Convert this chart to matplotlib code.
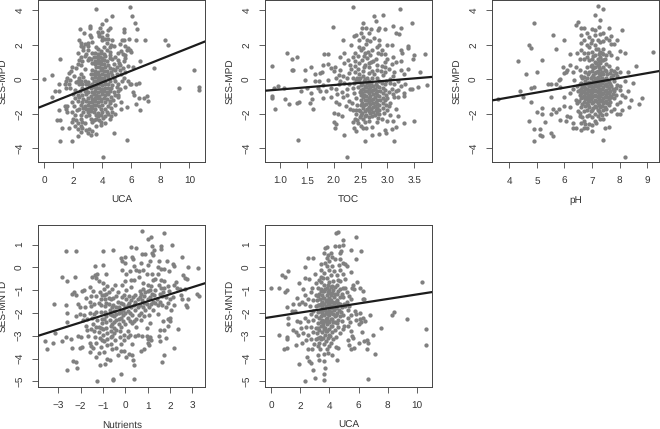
import numpy as np
import matplotlib
matplotlib.use("Agg")
import matplotlib.pyplot as plt

plt.rcParams['font.family'] = ['Liberation Sans', 'DejaVu Sans']
plt.rcParams['text.hinting'] = 'no_hinting'
plt.rcParams['text.hinting_factor'] = 1

mpd_uca = [(0,0),(.5,.25),(.5,-1),(.75,-.65),(1,-.7),(1,-.3),(1.1,1.2),(1.1,-3.55),(1,-1.8),(.9,-2.35),(1.1,-2.35),(1.2,-2.8),(1.9,-3.55),(2.3,-3.3),(4.05,-4.5),(4.8,-3.1),(5.7,-3.5),(3.6,4.1),(5.9,4.2),(6.05,3.65),(6.25,3.25),(6.4,2.9),(4.65,3.65),(4.25,3.45),(3.15,3.1),(3.15,2.95),(3.95,3.2),(3.85,3),(2.45,2.9),(2.75,2.7),(3.15,2.55),(5.5,2.9),(5.5,2.75),(5.5,2.3),(5.85,2.35),(6.35,2.3),(6.95,2.3),(8.3,2.3),(8.5,2),(6,1.6),(6.6,1.05),(7.55,.65),(10.35,.55),(9.3,-.5),(10.65,-.45),(10.65,-.6),(7.15,-1.25),(7.05,-.95),(6.85,-1.1),(6.55,-1.1),(6.6,-1.75),(6.3,-1.45),(5.7,-1.6),(5.3,-1.7),(4.85,-2),(4.5,-2.3),(6.5,-.2),(6.3,-.3),(6,-.3),(6.1,-.75),(6.2,-.9),
(3.7,2.72),(3.78,2.64),(4,2.75),(4.4,2.85),(4.55,2.95),(3.2,2.48),(3.75,2.5),(4,2.45),(4.3,2.55),(2.4,2.25),(4,2.28),(4.2,2.32),(4.42,2.35),(4.7,2.3),(5.35,2.25),(2.5,2.12),(2.8,2.05),(3,2.1),(3.3,2.15),(4.3,2.1),(4.6,2.0),(5.2,2.05),(2.5,1.92),(2.7,1.85),(3,1.95),(3.6,1.9),(4.1,1.85),(4.5,1.88),(4.8,1.92),(5.6,1.95),(5.8,1.8),(2.7,1.72),(3,1.68),(3.7,1.75),(3.9,1.66),(4.3,1.7),(4.5,1.6),(5.3,1.62),(5.7,1.72),(5.9,1.68),(2.3,1.5),(2.9,1.45),(3.3,1.55),(3.5,1.5),(3.72,1.48),(3.9,1.52),(4.1,1.45),(4.52,1.42),(5.1,1.55),(5.4,1.48),(5.6,1.4),(2.5,1.3),(2.8,1.35),(3.1,1.25),(3.4,1.32),(3.62,1.28),(3.82,1.3),(4,1.26),(4.2,1.34),(4.5,1.22),(4.9,1.3),(5.6,1.25),(2.4,1.12),(2.6,1.05),(3,1.1),(3.2,1.15),(3.5,1.06),(3.7,1.1),(3.9,1.05),(4.1,1.12),(4.3,1.04),(5.1,1.1),(5.5,1.05),(2.3,.9),(2.5,.85),(3.3,.95),(3.52,.88),(3.7,.92),(3.92,.86),(4.1,.9),(4.4,.85),(4.8,.9),(5.2,.85),(1.9,.72),(2.2,.68),(3.6,.7),(3.8,.74),(4,.66),(4.2,.72),(4.5,.65),(5,.7),(5.4,.66),(1.85,.48),(2.8,.6),(3.3,.52),(3.5,.5),(3.7,.45),(3.9,.52),(4.1,.48),(4.32,.5),(4.6,.45),(4.9,.52),(5.2,.55),(1.7,.35),(2.5,.3),(3.2,.32),(3.4,.28),(3.6,.3),(3.8,.26),(4,.32),(4.2,.27),(4.4,.3),(4.7,.25),(5,.3),(5.3,.28),(1.6,.05),(2.4,.1),(2.7,.12),(3.3,.08),(3.5,.12),(3.7,.06),(3.9,.1),(4.1,.05),(4.4,.12),(4.8,.08),(5.5,.1),(1.5,-.1),(1.8,-.05),(2.3,-.08),(2.5,-.12),(2.8,-.1),(3,-.15),(3.4,-.08),(3.6,-.12),(3.8,-.06),(4,-.12),(4.2,-.08),(4.5,-.12),(4.9,-.1),(5.8,-.08),(1.4,-.3),(1.7,-.25),(2.4,-.28),(2.6,-.3),(2.9,-.25),(3.1,-.32),(3.3,-.28),(3.6,-.34),(3.8,-.28),(4,-.32),(4.2,-.26),(4.4,-.3),(4.7,-.34),(5.1,-.28),(5.9,-.3),(1.8,-.5),(2.6,-.48),(2.9,-.55),(3.2,-.5),(3.4,-.46),(3.6,-.52),(3.8,-.5),(4,-.54),(4.2,-.48),(4.4,-.52),(4.6,-.5),(5,-.46),(5.2,-.55),(1.5,-.5),(2.8,-.7),(3,-.75),(3.3,-.72),(3.5,-.68),(3.7,-.74),(3.9,-.7),(4.1,-.66),(4.3,-.72),(4.5,-.7),(4.8,-.75),(5.1,-.68),(2.3,-.9),(2.6,-.92),(2.9,-.88),(3.2,-.94),(3.4,-.88),(3.6,-.9),(3.8,-.94),(4,-.88),(4.2,-.92),(4.4,-.86),(4.9,-.92),(2.1,-1.1),(2.4,-1.05),(2.7,-1.12),(3,-1.08),(3.3,-1.12),(3.5,-1.06),(3.7,-1.1),(3.9,-1.14),(4.1,-1.08),(4.3,-1.12),(4.6,-1.05),(1.6,-1.55),(1.9,-1.3),(2.3,-1.28),(2.6,-1.32),(2.9,-1.26),(3.1,-1.34),(3.3,-1.3),(3.5,-1.25),(3.7,-1.32),(3.9,-1.28),(4.2,-1.32),(4.5,-1.28),(5.3,-1.3),(1.4,-1.55),(2.5,-1.48),(2.8,-1.52),(3,-1.46),(3.2,-1.54),(3.4,-1.5),(3.6,-1.46),(3.8,-1.52),(4,-1.48),(4.4,-1.54),(4.9,-1.5),(1.5,-1.7),(2.4,-1.7),(2.7,-1.66),(2.9,-1.74),(3.1,-1.7),(3.3,-1.66),(3.5,-1.72),(3.9,-1.7),(4.2,-1.74),(4.6,-1.68),(1.6,-1.9),(1.9,-1.92),(2.7,-1.88),(3,-1.92),(3.2,-1.86),(3.4,-1.9),(3.7,-1.94),(4,-1.88),(4.3,-1.92),(4.7,-1.88),(2.9,-2.12),(3.1,-2.08),(3.7,-2.12),(3.9,-2.08),(4.2,-2.15),(4.6,-2.1),(2,-2.3),(2.2,-2.35),(2.5,-2.28),(3.2,-2.32),(3.6,-2.28),(3.8,-2.34),(1.9,-2.5),(2.3,-2.52),(2.6,-2.46),(2.8,-2.54),(3.3,-2.5),(3.9,-2.48),(4.2,-2.55),(2.1,-2.7),(2.5,-2.72),(3.6,-2.72),(3.9,-2.65),(1.7,-2.85),(2.3,-2.9),(2.6,-2.85),(2.9,-2.92),(3.1,-2.88),(2.5,-3.05),(3,-3.1),(3.3,-3),(3.6,-3.15),(3.2,-3.25),
(5.05,-.9),(5.35,-.1),(5.6,.4),(5.15,.95),(4.7,1.15),(4.75,.6),(2.05,.2),(2.2,-.15),(1.95,-.85),(2.15,-.6),(2.45,-.65),(3.55,-2.05),(3.45,-2.35),(4.05,-2.25),(4.4,-2),(4.55,-1.4),(5.55,-.45),(5.1,-1.05),(4.75,-1.2),(6.15,.7),(5.75,.75),(2.05,-1.55),(2.25,-1.75),(2.1,-2.05),(2.55,-2.05)]

mpd_toc = [(.85,.75),(.85,-1.1),(.85,-.95),(.88,-.5),(.9,-1.7),(.97,-.4),(1.07,-.5),(1.1,-1.15),(1.13,1.5),(1.17,-1.45),(1.22,1.2),(1.22,.55),(1.25,.55),(1.32,1.3),(1.32,-1.35),(1.35,-1.3),(1.34,-3.5),(1.39,-.7),(1.47,.55),(1.47,-.05),(1.5,-.5),(1.55,-1.4),(1.57,.7),(1.57,-.8),(1.62,-1.7),(1.6,-1.15),(1.65,-.1),(1.72,-.1),(1.78,.4),(1.82,1.45),(1.9,1.45),(1.8,.85),(1.98,3.05),(2.17,2.3),(2.35,4.2),(3.23,4.1),(2.75,3.65),(2.78,3.4),(2.92,3.7),(2.55,3.25),(3.1,3.1),(3.25,3),(3.45,3.25),(3.15,2.7),(3.22,2.6),(2.25,-4.5),(2.58,-3.55),(3.13,-3.55),(2.2,-3.25),(3.3,-2.55),(3.5,-2.4),(3.7,1.45),(3.6,.4),(3.73,-.35),(3.57,-.45),(3.45,-.55),
(1.65,.3),(1.75,.35),(1.7,-.5),(1.8,-.35),(1.85,-.65),(1.75,-.7),(1.8,-1.1),(1.95,-1.0),(1.9,.9),(1.95,.65),(2,.5),(2.02,.7),(1.9,-.05),(1.95,-.5),(2.05,-.55),(2.1,-.3),(2.05,-1.3),(2.1,-1.45),(2,-1.95),(2.08,-2.0),(2.15,-2.1),(2,-2.45),(2.05,-2.6),(2.02,-2.85),(2.12,.55),(2.12,1.3),(2.2,1.5),(2.2,.95),(2.18,.2),(2.2,-.2),(2.15,-.75),(2.18,-1.05),(2.25,-.55),(2.3,-1.7),(2.35,-1.8),(2.27,1.1),(2.3,.85),(2.28,.35),(2.32,2.0),(2.38,2.5),(2.42,2.55),(2.35,1.3),(2.4,1.55),(2.35,.1),(2.37,-.2),(2.42,-1.1),(2.35,-2.5),(2.4,-2.3),(2.38,-2.85),(2.42,-3),(2.42,-2.0),(2.47,2.3),(2.5,2.7),(2.52,2.95),(2.55,2.45),(2.47,1.9),(2.5,1.7),(2.45,1.35),(2.47,.95),(2.45,.6),(2.47,.3),(2.43,.1),(2.47,-.1),(2.45,-.45),(2.48,-.75),(2.43,-1.5),(2.47,-1.75),(2.48,-2.2),(2.45,-2.55),(2.5,-2.7),(2.55,-2.85),(2.6,3),(2.65,2.7),(2.62,2.25),(2.6,2.05),(2.55,1.8),(2.58,1.55),(2.62,1.25),(2.58,.85),(2.55,.5),(2.55,.2),(2.58,0),(2.53,-.25),(2.55,-.55),(2.53,-.8),(2.55,-1.05),(2.53,-1.35),(2.55,-1.65),(2.53,-1.95),(2.55,-2.3),(2.6,-2.85),(2.7,2.9),(2.75,2.4),(2.68,2.2),(2.72,1.7),(2.68,1.4),(2.7,1.0),(2.65,.7),(2.66,.35),(2.62,.05),(2.62,-.2),(2.6,-.45),(2.62,-.7),(2.6,-.95),(2.62,-1.2),(2.6,-1.45),(2.62,-1.7),(2.6,-2.05),(2.65,-2.4),(2.82,2.85),(2.85,3),(2.85,2.3),(2.8,1.9),(2.82,1.5),(2.78,1.2),(2.8,.85),(2.72,.5),(2.72,.1),(2.7,-.2),(2.68,-.45),(2.7,-.7),(2.68,-.95),(2.7,-1.2),(2.68,-1.45),(2.7,-1.7),(2.68,-1.95),(2.72,-2.15),(2.72,-2.75),(2.72,-3.25),(2.95,2.9),(2.85,2.0),(2.9,1.7),(2.88,1.45),(2.95,1.0),(2.9,.75),(2.88,.5),(2.92,.25),(2.8,.1),(2.78,-.25),(2.76,-.55),(2.78,-.8),(2.76,-1.05),(2.78,-1.3),(2.76,-1.55),(2.78,-1.8),(2.76,-2.05),(2.8,-2.5),(2.85,-3.15),(3,2),(3,1.2),(3.02,.6),(2.95,.4),(2.85,-.1),(2.85,-.45),(2.87,-.7),(2.85,-.95),(2.87,-1.2),(2.84,-1.5),(2.85,-1.75),(2.85,-2.0),(2.9,-2.3),(2.95,-2.95),(2.98,-3.1),(3,-2.4),(3.08,2),(3.1,1.3),(3.08,.9),(3.05,-.2),(2.95,-.3),(2.95,-.6),(2.98,-.9),(2.95,-1.2),(2.98,-1.5),(3,-1.8),(3.05,-1.35),(3.08,-.55),(3.1,-2.4),(3.08,-2.9),(3.15,-2.75),(3.15,-.7),(3.2,-.6),(3.25,1.7),(3.28,1.5),(3.25,1.05),(3.3,.3),(3.32,-.3),(3.3,-.95),(3.38,1.95),(3.38,1.8),(3.38,.6),(3.42,-.55),(3.47,1.2),(3.5,1.4),(3.2,-1.0),(3.2,-2.1),(3.15,-1.7),(3.3,-.8),(3.12,-1.05),(3.05,.0),(3.2,-.1),(3.13,.4),
(2.05,.05),(2.1,.25),(2.12,-.1),(2.06,-.85),(2.25,.05),(2.28,-.25),(2.24,-.9),(2.28,-1.25),(2.22,-1.55),(2.33,.6),(2.36,-.5),(2.38,-.8),(2.34,-1.35),(2.4,.4),(2.4,.75),(2.4,1.05),(2.41,-.05),(2.41,-1.75),(2.44,-2.35),(2.49,.05),(2.5,-.35),(2.5,-.62),(2.51,-.92),(2.5,-1.22),(2.5,-1.5),(2.49,-1.85),(2.51,-2.08),(2.53,1.1),(2.56,1.35),(2.57,.7),(2.57,-.1),(2.58,-.4),(2.58,-.68),(2.57,-.92),(2.58,-1.18),(2.57,-1.5),(2.58,-1.82),(2.58,-2.12),(2.59,-2.5),(2.64,1.6),(2.65,.95),(2.65,-.08),(2.65,-.32),(2.65,-.58),(2.65,-.82),(2.65,-1.08),(2.65,-1.33),(2.65,-1.58),(2.65,-1.85),(2.66,-2.2),(2.73,1.05),(2.74,-.4),(2.73,-.62),(2.73,-.88),(2.73,-1.12),(2.73,-1.38),(2.73,-1.62),(2.73,-1.88),(2.75,.3),(2.8,.55),(2.81,-.4),(2.81,-.68),(2.81,-.92),(2.81,-1.18),(2.81,-1.45),(2.81,-1.68),(2.81,-1.95),(2.83,-2.25),(2.9,-.2),(2.91,-.5),(2.91,-.82),(2.91,-1.08),(2.91,-1.38),(2.92,-1.65),(2.93,-1.95),(2.95,.7),(2.95,1.45),(2.98,-.1),(3,-1.1),(3.02,-.75),(3.02,-1.55),(3.05,-2.05),(3.1,.2),(3.15,1.0),(3.12,-.3),(3.1,-.85),(3.25,.55),(3.25,-.4)]

mpd_ph = [(3.6,-1.15),(4.3,1.05),(4.4,-.65),(4.5,-1),(4.6,.3),(4.7,2),(4.8,1.8),(4.8,-.5),(4.9,-.45),(4.8,-1.3),(4.9,3.25),(5,.4),(5.2,1.1),(4.7,-2.4),(4.9,-2.9),(5,-1.9),(5.1,-2.9),(4.9,-3.55),(5.1,-3.2),(5.2,-3.3),(5.2,-1.65),(5.2,-2),(5.3,-2.5),(5.5,-2),(5.5,-3.1),(5.6,-3.3),(5.4,-.3),(5.5,-.3),(5.5,-1),(5.6,2.55),(5.7,1.75),(5.6,-1.7),(5.7,-1.9),(5.8,-1.7),(5.85,-2.35),(5.7,-.3),(5.8,-.05),(5.85,0),(5.85,-.45),(6,2.3),(6,.35),(6.05,.45),(5.95,.7),(6.1,.55),(6.2,.85),(6,-1),(6,-1.55),(6.2,-1.6),(6.05,-2.4),(6.1,-2.15),(6.2,-2.2),(6.2,-.8),(6.2,1.45),(6.3,-2.55),(6.3,-2.85),(6.4,-2.8),(6.4,3.15),(6.5,3.3),(6.6,3),(6.7,2.95),(8.1,2.85),(8.2,1.5),(9.2,1.6),(8.6,.8),(8.3,.4),(8.5,-.2),(8.3,-.65),(8.4,-1.2),(8.8,-1.1),(8.7,-1.45),(8.35,-1.6),(8.1,-1.75),(8.2,-4.5),(7.4,-3.5),(7,-3),(7.45,-2.8),(7.6,-2.75),(7.2,4.25),(7.4,4.1),(7.1,3.7),(7.3,3.45),(7.25,3.05),(7.6,3),
(6.3,.4),(6.3,-.55),(6.35,-.05),(6.4,.7),(6.45,1.5),(6.45,-.4),(6.4,-1.2),(6.45,-1.35),(6.5,-.7),(6.5,-1.85),(6.55,-2.15),(6.55,.55),(6.55,1.2),(6.6,2.55),(6.6,2.1),(6.6,1.7),(6.6,.2),(6.6,-.2),(6.6,-.55),(6.6,-.8),(6.6,-1.1),(6.6,-1.6),(6.55,-1.95),(6.6,-2.55),(6.6,-2.95),(6.7,2.3),(6.7,1.5),(6.7,1.15),(6.7,.15),(6.7,-.35),(6.7,-.65),(6.7,-.95),(6.7,-1.3),(6.7,-1.85),(6.7,-2.4),(6.7,-2.8),(6.8,2.7),(6.8,2),(6.8,1.3),(6.8,.7),(6.8,.1),(6.8,-.3),(6.8,-.55),(6.8,-.8),(6.8,-1.05),(6.8,-1.35),(6.8,-1.75),(6.8,-2.1),(6.8,-2.85),(6.9,2.45),(6.9,1.85),(6.9,1.1),(6.9,.45),(6.9,-.15),(6.9,-.4),(6.9,-.7),(6.9,-1),(6.9,-1.25),(6.9,-1.6),(6.9,-2.05),(6.9,-2.6),(7,2.9),(7,2.3),(7,1.6),(7,1.2),(7,.85),(7,.5),(7,.15),(7,-.2),(7,-.5),(7,-.75),(7,-1.05),(7,-1.4),(7,-1.75),(7,-2.2),(7,-2.65),(7.1,2.85),(7.1,2.55),(7.1,2),(7.1,1.4),(7.1,1),(7.1,.7),(7.1,.35),(7.1,.05),(7.1,-.3),(7.1,-.6),(7.1,-.9),(7.1,-1.2),(7.1,-1.55),(7.1,-2),(7.1,-2.4),(7.2,2.3),(7.2,1.75),(7.2,1.2),(7.2,.85),(7.2,.5),(7.2,.15),(7.2,-.15),(7.2,-.45),(7.2,-.75),(7.2,-1.05),(7.2,-1.35),(7.2,-1.75),(7.2,-2.1),(7.3,2.65),(7.3,2.15),(7.3,1.6),(7.3,1.3),(7.3,.95),(7.3,.6),(7.3,.25),(7.3,-.05),(7.3,-.35),(7.3,-.65),(7.3,-.95),(7.3,-1.25),(7.3,-1.6),(7.3,-1.95),(7.3,-2.3),(7.4,2.7),(7.4,2.2),(7.4,1.75),(7.4,1.45),(7.4,1.1),(7.4,.7),(7.4,.3),(7.4,-.1),(7.4,-.45),(7.4,-.8),(7.4,-1.1),(7.4,-1.4),(7.4,-1.8),(7.4,-2.3),(7.5,2.4),(7.5,1.4),(7.5,.9),(7.5,.5),(7.5,.1),(7.5,-.25),(7.5,-.6),(7.5,-.9),(7.5,-1.25),(7.5,-1.7),(7.5,-2),(7.6,2.3),(7.6,1.6),(7.6,.75),(7.6,-.15),(7.6,-.5),(7.6,-.8),(7.6,-1.15),(7.6,-1.5),(7.7,2.5),(7.7,2.05),(7.7,1.4),(7.7,.55),(7.7,.15),(7.7,-.4),(7.7,-1),(7.7,-1.85),(7.8,2.05),(7.8,.5),(7.8,-.1),(7.8,-.7),(7.8,-1.1),(7.8,-1.7),(7.9,2.3),(7.9,1.25),(7.9,.65),(7.9,.2),(7.9,-.35),(7.9,-1.45),(7.9,-2),(8,1.65),(8,.45),(8,-.4),(8,-.6),(8,-1.3),(8,-2),(8.1,-.9),(8.2,-1),(8.2,-.1),
(6.55,-.3),(6.55,-.62),(6.55,-.9),(6.52,-1.25),(6.65,.05),(6.65,-.45),(6.65,-.72),(6.65,-1.02),(6.65,-1.42),(6.65,-2.2),(6.75,.45),(6.75,-.12),(6.75,-.48),(6.75,-.82),(6.75,-1.12),(6.75,-1.55),(6.75,-2.6),(6.85,.3),(6.85,-.22),(6.85,-.62),(6.85,-.92),(6.85,-1.2),(6.85,-1.5),(6.85,1.55),(6.95,.75),(6.95,.05),(6.95,-.32),(6.95,-.6),(6.95,-.88),(6.95,-1.15),(6.95,-1.85),(6.95,2.1),(7.05,1.35),(7.05,.68),(7.05,.25),(7.05,-.1),(7.05,-.42),(7.05,-.68),(7.05,-.98),(7.05,-1.3),(7.05,-1.65),(7.15,1.75),(7.15,.95),(7.15,.42),(7.15,-.05),(7.15,-.38),(7.15,-.68),(7.15,-.98),(7.15,-1.28),(7.15,-1.62),(7.15,-2.55),(7.25,1.45),(7.25,1.05),(7.25,.7),(7.25,.35),(7.25,.02),(7.25,-.25),(7.25,-.55),(7.25,-.85),(7.25,-1.15),(7.25,-1.48),(7.25,-1.85),(7.35,1.5),(7.35,1.1),(7.35,.45),(7.35,.1),(7.35,-.22),(7.35,-.55),(7.35,-.88),(7.35,-1.2),(7.35,-1.52),(7.35,-2.05),(7.45,1.2),(7.45,.55),(7.45,-.02),(7.45,-.35),(7.45,-.7),(7.45,-1.02),(7.45,-1.32),(7.45,-1.6),(7.55,.3),(7.55,-.05),(7.55,-.4),(7.55,-.72),(7.55,-1.02),(7.55,-1.4),(7.65,.35),(7.65,-.3),(7.65,-.65),(7.65,-.95),(7.65,-1.3),(7.75,.25),(7.75,-.55),(7.75,-.85),(7.85,.35),(7.85,-.5),(7.85,-.9)]

mntd_nutrients = [(-3.6,-3.25),(-3.5,-3.6),(-3.25,-3.3),(-3.2,-1.6),(-3.15,-2.9),(-2.85,-.4),(-2.85,-3.25),(-2.65,.7),(-2.65,-1.65),(-2.6,-.6),(-2.6,-2),(-2.6,-2.4),(-2.65,-3.05),(-2.45,-3.15),(-2.4,-3.55),(-2.35,-4.1),(-2.2,-4.15),(-2.6,-4.5),(-2.15,-4.4),(-2.2,.72),(-2.25,-.4),(-2.3,-1.1),(-2.4,-1.15),(-1.25,-5),(-.55,-4.9),(-.55,-4.95),(-.2,-4.7),(.4,-4.9),(.4,-4.3),(-1.15,-4.3),(-.9,-4.25),(-.7,-4.05),(-.8,-4),(1.65,-4.15),(1.75,-3.85),(2.2,-3.55),(2.35,-2.7),(3.3,-1.25),(3.2,-1.15),(3.25,-.02),(2.8,0),(2.55,.45),(2.1,1),(1.75,1.5),(.75,1.58),(1,1.25),(1.15,1.35),(1.2,.95),(1.6,.95),(1.6,.8),(.25,.9),(.5,.85),(-.55,.75),(-1,.7),(-1,.1),(-1.35,.08),
(-2.2,-1.2),(-2.1,-1.6),(-2.05,-1.75),(-2.2,-2.15),(-2.05,-2.05),(-2.1,-3),(-2,-3.05),(-1.95,-3.5),(-2.05,-3.55),(-1.95,-1.05),(-1.85,-1),(-1.9,-2.3),(-1.85,-2.1),(-1.75,-2.55),(-1.7,-2.75),(-1.65,-3),(-1.6,-3.3),(-1.55,-3.45),(-1.6,-3.7),(-1.45,-3.55),(-1.6,-.85),(-1.55,-1.25),(-1.6,-1.5),(-1.55,-1.7),(-1.6,-2),(-1.5,-2.2),(-1.45,-2.5),(-1.4,-2.8),(-1.35,-3.05),(-1.3,-3.3),(-1.3,-3.95),(-1.2,-3.75),(-1.5,-.4),(-1.35,-.35),(-1.3,-.45),(-1.4,-1.6),(-1.3,-1.95),(-1.25,-2.3),(-1.2,-2.6),(-1.2,-2.85),(-1.15,-3.1),(-1.1,-3.5),(-1.25,-.3),(-1.2,-.6),(-1.15,-1.1),(-1.1,-1.4),(-1.1,-1.65),(-1.1,-1.95),(-1.05,-2.25),(-1.05,-2.45),(-1,-2.7),(-1,-2.95),(-.95,-3.25),(-.95,-3.7),(-1,-.7),(-.95,-.95),(-.95,-1.2),(-.9,-1.4),(-.9,-1.7),(-.9,-1.95),(-.85,-2.15),(-.85,-2.4),(-.85,-2.65),(-.8,-2.9),(-.8,-3.15),(-.8,-3.4),(-.85,-.3),(-.8,-.8),(-.75,-1.1),(-.75,-1.35),(-.75,-1.6),(-.7,-1.85),(-.7,-2.05),(-.7,-2.3),(-.65,-2.55),(-.65,-2.8),(-.65,-3.05),(-.65,-3.35),(-.6,-3.6),(-.6,-.95),(-.55,-1.35),(-.55,-1.65),(-.5,-1.9),(-.5,-2.15),(-.5,-2.4),(-.5,-2.65),(-.5,-2.9),(-.45,-3.2),(-.4,-3.55),(-.35,-3.85),(-.45,-.75),(-.35,-1.1),(-.35,-1.5),(-.3,-1.75),(-.3,-2),(-.3,-2.25),(-.3,-2.5),(-.25,-2.8),(-.25,-3.05),(-.2,-3.35),(-.2,-3.65),(-.15,-.75),(-.15,-.1),(-.15,.3),(-.2,.42),(-.15,-1.3),(-.1,-1.6),(-.1,-1.85),(-.1,-2.1),(-.1,-2.35),(-.05,-2.95),(-.05,-3.2),(-.05,-3.65),(0,.45),(0,.2),(.05,-.3),(0,-.6),(.05,-1),(.05,-1.4),(.1,-1.65),(.1,-1.9),(.1,-2.2),(.1,-2.8),(.1,-3.05),(.05,-3.95),(.15,-3.8),(.2,-.15),(.25,-.55),(.25,-.85),(.25,-1.45),(.25,-1.75),(.3,-2.1),(.3,-2.45),(.3,-3.35),(.3,-3.85),(.35,-4.05),(.3,.45),(.35,.35),(.4,-.55),(.45,-1.2),(.45,-1.5),(.45,-1.85),(.5,-2.25),(.5,-2.6),(.55,-2.95),(.5,-.1),(.6,-.15),(.6,-.4),(.65,-1.05),(.65,-1.3),(.65,-1.65),(.7,-2),(.7,-2.3),(.75,-3.0),(.7,-3.65),(.85,-3.6),(.75,.6),(.7,.2),(.8,-.1),(.8,-.7),(.8,-.95),(.85,-1.25),(.85,-1.55),(.9,-1.85),(.85,-2.15),(.95,-2.65),(.95,-3),(1,-3.15),(1,-3.3),(1.05,-3.4),(.9,.6),(1,.1),(.95,-.3),(1,-.75),(1,-1.05),(1,-1.4),(1.05,-1.75),(1.05,-2.1),(1.1,-2.45),(1.1,-3.05),(1.15,-3.2),(1.2,.65),(1.25,.55),(1.3,.75),(1.2,-.3),(1.15,-.8),(1.2,-1.15),(1.25,-1.5),(1.25,-1.85),(1.5,.3),(1.45,0),(1.35,-.5),(1.35,-1),(1.4,-1.4),(1.45,-1.65),(1.45,-2.05),(1.5,-3),(1.55,-3.25),(1.55,-2.75),(1.6,-.05),(1.6,-.55),(1.6,-.9),(1.65,-1.25),(1.65,-1.65),(1.7,-2.35),(1.75,-2.75),(1.8,-3.1),(1.75,-.05),(1.75,-.6),(1.75,-.9),(1.8,-1.3),(1.8,-1.75),(1.9,-2.25),(1.9,-2.55),(1.95,-.15),(1.85,.3),(1.9,-.8),(1.95,-1.05),(2,-1.4),(2.05,-1.85),(2,-2.2),(2,-2.35),(2.15,.15),(2.2,.05),(2.2,-.75),(2.25,-.65),(2.15,-1.3),(2.2,-1.65),(2.3,-.9),(2.45,-.95),(2.5,-1.2),(2.55,-1.4),(2.65,-.45),(2.6,-.35),(2.75,-.5),(2.65,-.95),(2.7,-1.65),(2.8,-1.4),(2.75,-1.75),
(-1.75,-1.35),(-1.8,-1.75),(-1.7,-2.25),(-1.55,-2.7),(-1.3,-1.25),(-1.45,-1.05),(-1.4,-2.05),(-1.3,-2.6),(-1.05,-1.2),(-1.2,-1.55),(-1.1,-2.65),(-1.05,-3.2),(-.85,-1.15),(-.85,-1.55),(-.95,-2.25),(-.65,-1.4),(-.6,-1.75),(-.6,-2.1),(-.58,-2.48),(-.58,-3),(-.42,-1.25),(-.42,-1.75),(-.4,-2.05),(-.4,-2.32),(-.4,-2.75),(-.2,-1.55),(-.2,-1.95),(-.2,-2.2),(-.2,-2.62),(-.05,-1.2),(0,-1.72),(0,-2.02),(0,-2.5),(.15,-1.25),(.18,-1.55),(.2,-2),(.2,-2.35),(.2,-2.95),(.35,-1.3),(.38,-1.65),(.4,-2.35),(.42,-3),(.55,-1.4),(.58,-1.75),(.6,-2.1),(.75,-1.45),(.78,-1.75),(.72,-1.15),(.9,-1.1),(.95,-1.6),(1.1,-1),(1.12,-1.3),(1.15,-1.6),(1.3,-1.2),(1.35,-1.55),(1.25,-.55),(1.5,-.75),(1.55,-1.15),(1.55,-1.5),(1.7,-1.1),(1.9,-1.55),(1.45,-.3),(1.1,.3),(.4,.05)]

mntd_uca = [(0,-.9),(.55,-.92),(.55,-2.98),(.75,-.35),(.95,-.4),(.95,-1.1),(1.05,-1),(1.15,-.15),(.9,-3.6),(1.1,-3.55),(1.05,-3.15),(1.05,-3.05),(1.05,-1.75),(1.15,-2.2),(1.15,-2.5),(1.9,-4.22),(2.3,-5),(3,-4.85),(3.65,-4.95),(3.6,-4.7),(3.7,-4.4),(2.85,-4.5),(6.65,-4.9),(7.1,-3.8),(6.55,-3.6),(5.7,-3.55),(5.5,-3.6),(6,-3.3),(6.35,-3.25),(6.55,-3.2),(6.65,-3.3),(7,-2.95),(7.55,-2.65),(6.8,-2.1),(8.3,-2.1),(8.45,-1.95),(9.3,-2.25),(10.35,-.62),(10.65,-2.7),(10.65,-3.4),(4.45,1.5),(4.6,1.55),(5.85,1.33),(6.2,.72),(5.85,.35),(5.5,.75),(4.95,1.2),(4.9,1.0),(4.65,.95),(4.4,.95),(3.7,.85),(3.85,.9),(2.5,.42),(2.85,.42),(2.3,0),(2.35,-.45),(2.6,-.5),(1.9,-.7),(2.15,-.95),(1.75,-1.35),(1.5,-1.6),(1.4,-1.9),(1.6,-1.9),(1.9,-1.6),(2.1,-1.5),(2.3,-1.6),(1.8,-2.35),(1.95,-2.4),(1.5,-2.75),(1.7,-2.85),(1.85,-2.95),(1.7,-3.4),(2.1,-3.3),(2.3,-2.2),(2.4,-2.6),(2.5,-2.95),(2.55,-3.6),(2.45,-3.95),(2.6,-4.1),(2.75,-4.2),(2.8,-3.6),(2.3,-1.2),(2.5,-1.4),(2.65,-1.7),(2.75,-2.05),(2.8,-.9),(2.7,-1.1),
(3,-.3),(3.1,-.7),(3.2,-.9),(3.3,-.55),(3.05,-1.2),(3.15,-1.45),(3.05,-1.7),(3.2,-1.95),(3.1,-2.15),(3.2,-2.45),(3.05,-2.65),(3.15,-2.9),(3.05,-3.15),(3.2,-3.45),(3.2,-3.85),(3.3,-4.05),(3.35,-3.6),(3.3,-1.15),(3.35,-1.4),(3.3,-1.65),(3.35,-1.9),(3.3,-2.2),(3.4,-2.55),(3.3,-2.75),(3.35,-3.05),(3.3,-3.3),(3.45,.15),(3.45,-.1),(3.4,-.4),(3.45,-.65),(3.45,-.95),(3.5,-1.2),(3.5,-1.5),(3.5,-1.75),(3.5,-2),(3.5,-2.3),(3.55,-2.55),(3.5,-2.85),(3.55,-3.1),(3.6,-3.35),(3.6,-3.8),(3.65,-4.1),(3.65,.65),(3.7,.2),(3.65,-.25),(3.65,-.75),(3.65,-1.05),(3.65,-1.35),(3.65,-1.6),(3.68,-1.85),(3.65,-2.1),(3.68,-2.35),(3.7,-2.65),(3.68,-2.95),(3.75,-3.25),(3.8,-3.6),(3.9,.55),(3.85,.4),(3.85,.05),(3.8,-.45),(3.8,-.9),(3.8,-1.2),(3.82,-1.45),(3.8,-1.7),(3.82,-1.95),(3.82,-2.2),(3.85,-2.5),(3.85,-2.8),(3.9,-3.1),(3.95,-3.45),(3.9,-3.75),(4.1,.65),(4,.3),(3.95,-.1),(3.95,-.65),(3.95,-1),(3.95,-1.35),(3.95,-1.6),(3.97,-1.85),(3.97,-2.1),(4,-2.4),(4,-2.7),(4.05,-3),(4.1,-3.3),(4.15,-3.85),(4.2,.45),(4.15,.05),(4.1,-.35),(4.1,-.85),(4.1,-1.2),(4.1,-1.45),(4.12,-1.7),(4.1,-1.95),(4.15,-2.25),(4.2,-2.55),(4.2,-2.85),(4.25,-3.15),(4.35,.35),(4.3,-.15),(4.25,-.6),(4.25,-1),(4.3,-1.3),(4.28,-1.6),(4.3,-1.85),(4.35,-2.15),(4.35,-2.4),(4.4,-2.75),(4.45,-3.05),(4.45,-3.5),(4.55,-4.05),(4.6,-3.55),(4.7,.65),(4.65,.1),(4.5,-.35),(4.5,-.75),(4.5,-1.15),(4.5,-1.45),(4.5,-1.7),(4.55,-2),(4.6,-2.3),(4.6,-2.6),(4.7,-2.9),(4.75,.35),(4.8,.7),(4.7,-.1),(4.7,-.6),(4.72,-.95),(4.75,-1.3),(4.75,-1.6),(4.8,-1.95),(4.85,-2.35),(4.9,-2.7),(4.9,.2),(4.9,-.3),(4.95,-.9),(4.95,-1.3),(5,-1.6),(5.05,.15),(5.2,.05),(5.1,-.5),(5.2,-1.1),(5.2,-1.5),(5.25,-1.85),(5.25,-2.2),(5.25,-2.55),(5.3,-3.2),(5.35,-3.4),(5.5,-.2),(5.6,-.75),(5.55,-.9),(5.5,-1.4),(5.5,-2.1),(5.45,-2.8),(5.55,-3),(5.6,-3.1),(5.75,-1.9),(5.8,-2.3),(5.9,-.65),(6.1,-.9),(6.3,-1.4),(6.4,-1.4),(6.1,-2),(6.2,-2.4),(6.3,-2.2),(6,-2.5),(6.25,-2.85),(6.3,-1.05),(6.45,-2.35),
(2.9,-1.45),(2.9,-1.9),(2.85,-2.3),(2.7,-2.6),(2.9,-2.85),(2.7,-3.15),(2.95,-3.35),(2.55,-2.35),(2.4,-3.2),(2.2,-2.9),(2.05,-2.65),(3.22,-1.25),(3.22,-1.65),(3.22,-2.68),(3.22,-3.1),(3.42,-1.05),(3.42,-1.62),(3.42,-2.12),(3.42,-2.4),(3.42,-3.15),(3.58,-.45),(3.58,-1.05),(3.58,-1.35),(3.58,-1.88),(3.58,-2.42),(3.6,-2.7),(3.72,-.95),(3.75,-1.48),(3.75,-1.72),(3.75,-2.02),(3.75,-2.25),(3.78,-2.8),(3.88,-.75),(3.88,-1.1),(3.88,-1.55),(3.9,-2.05),(3.92,-2.35),(3.95,-2.95),(4.03,-1.12),(4.03,-1.48),(4.03,-1.75),(4.05,-2.02),(4.08,-2.28),(4.1,-2.55),(4.2,-.8),(4.2,-1.12),(4.2,-1.52),(4.2,-1.78),(4.22,-2.05),(4.27,-2.4),(4.4,-.85),(4.4,-1.15),(4.4,-1.5),(4.42,-1.78),(4.45,-2.1),(4.5,-2.45),(4.6,-.55),(4.6,-1.05),(4.62,-1.55),(4.65,-1.85),(4.7,-2.15),(4.85,-1.15),(4.85,-1.75),(4.95,-2.1),(5.05,-.9),(5,-2.55),(5.1,-1.7),(5.35,-1.25),(5.35,-1.7),(5.4,-2.4),(5.7,-.95),(5.8,-2.05),(6.1,-2.25)]

panels = [
    ("UCA", "SES-MPD", mpd_uca, [0, 2, 4, 6, 8, 10], ["0", "2", "4", "6", "8", "10"], [-.41, 11.1], [-1.65, 2.2]),
    ("TOC", "SES-MPD", mpd_toc, [1, 1.5, 2, 2.5, 3, 3.5], ["1.0", "1.5", "2.0", "2.5", "3.0", "3.5"], [.726, 3.835], [-.66, .14]),
    ("pH", "SES-MPD", mpd_ph, [4, 5, 6, 7, 8, 9], ["4", "5", "6", "7", "8", "9"], [3.384, 9.435], [-1.22, .48]),
    ("Nutrients", "SES-MNTD", mntd_nutrients, [-3, -2, -1, 0, 1, 2, 3], ["\u22123", "\u22122", "\u22121", "0", "1", "2", "3"], [-3.896, 3.58], [-3.0, -.69]),
    ("UCA", "SES-MNTD", mntd_uca, [0, 2, 4, 6, 8, 10], ["0", "2", "4", "6", "8", "10"], [-.41, 11.07], [-2.22, -1.08]),
]
mpd_yticks = [-4, -2, 0, 2, 4]
mpd_ylim = [-4.81, 4.58]
mntd_yticks = [-5, -4, -3, -2, -1, 0, 1]
mntd_ylim = [-5.263, 1.85]

W, H = 660, 429
fig = plt.figure(figsize=(W / 100, H / 100), dpi=100, facecolor="white")
lefts = [38.3, 265.3, 492.3, 38.3, 265.3]
tops = [0.3, 0.3, 0.3, 225.3, 225.3]
for (xl, yl, pts, xt, xtl, xlim, fit), l, t in zip(panels, lefts, tops):
    ax = fig.add_axes([l / W, 1 - (t + 162) / H, 167 / W, 162 / H])
    a = np.array(pts, dtype=float)
    ax.scatter(a[:, 0], a[:, 1], s=9.5, c="#808080", linewidths=0, zorder=2)
    ax.plot(xlim, fit, color="#1c1c1c", lw=1.6, zorder=3, solid_capstyle="butt")
    ax.set_xlim(xlim)
    mpd = yl == "SES-MPD"
    ax.set_ylim(mpd_ylim if mpd else mntd_ylim)
    ax.set_xticks(xt, xtl)
    yt = mpd_yticks if mpd else mntd_yticks
    ax.set_yticks(yt, [str(v).replace("-", "\u2212") for v in yt])
    ax.tick_params(axis="x", length=4, width=.6, color="#444444", labelsize=7.2, labelcolor="#333333", pad=6.5)
    ax.tick_params(axis="y", length=4, width=.6, color="#444444", labelsize=7.2, labelcolor="#333333", pad=6, labelrotation=90)
    for lab in ax.get_yticklabels():
        lab.set_va("center")
    for s in ax.spines.values():
        s.set_linewidth(.7)
        s.set_color("#444444")
    ax.set_xlabel(xl, fontsize=7.2, color="#333333")
    ax.set_ylabel(yl, fontsize=7.2, color="#333333")
    ax.xaxis.set_label_coords(.5, -38 / 162, transform=ax.transAxes)
    ax.xaxis.label.set_va("center")
    ax.yaxis.set_label_coords(-34.5 / 167, .5, transform=ax.transAxes)
    ax.yaxis.label.set_va("center")
fig.savefig("out.png", dpi=100)
